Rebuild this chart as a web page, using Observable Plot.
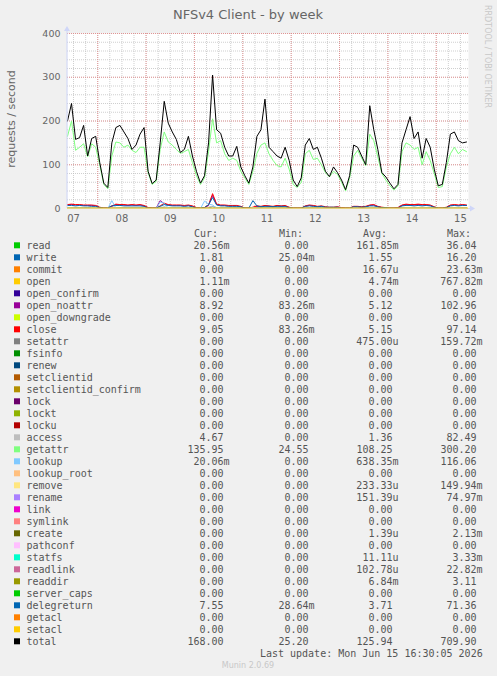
<!DOCTYPE html>
<html><head><meta charset="utf-8">
<script src="https://cdn.jsdelivr.net/npm/d3@7"></script>
<script src="https://cdn.jsdelivr.net/npm/@observablehq/plot@0.6"></script>
<style>
html,body{margin:0;padding:0;background:#F0F0F0;}
#chart svg{display:block;}
</style></head><body><div id="chart"></div>
<script>
// ---- time series (2-hour samples starting Jun 7 09:00 UTC) ----
const total = [200,240,158,162,190,120,160,165,
 105,58,48,150,185,190,175,160,135,145,170,185,
 85,57,65,150,245,195,175,158,128,135,165,120,
 85,58,75,150,305,180,172,140,120,120,142,95,
 75,58,95,165,180,250,140,130,120,115,140,110,
 65,50,70,145,160,135,140,115,85,73,95,82,
 65,43,75,145,140,120,100,235,180,135,82,72,
 58,45,55,150,180,210,160,175,115,160,140,90,
 52,55,105,170,175,155,150,152];
const getattr = [165,200,133,140,148,118,148,140,
 100,55,45,120,152,150,140,145,133,128,140,140,
 82,55,62,135,175,152,145,135,126,130,135,105,
 75,55,70,130,205,150,155,125,110,115,110,85,
 70,55,85,126,145,150,125,110,98,95,115,90,
 55,48,60,125,133,112,115,100,82,72,85,78,
 60,40,70,120,133,115,98,170,155,118,80,65,
 52,42,52,130,150,145,135,140,100,130,110,80,
 48,50,95,125,140,125,135,130];
const close = [9,10,9,9,8,8,8,7,
 3,1,1,6,10,9,9,8,9,8,9,7,
 2,1,1,6,12,9,8,8,8,7,8,6,
 2,1,2,8,34,10,8,8,7,7,7,5,
 1,1,3,6,5,7,6,5,7,6,7,3,
 1,1,1,6,8,7,5,6,4,3,3,4,
 2,1,1,5,5,4,5,8,9,5,3,2,
 1,1,2,8,10,9,9,10,9,9,8,4,
 1,1,3,8,9,8,9,8];
const open_noattr = [8,9,8,8,7,7,7,6,
 2,1,1,5,9,8,8,7,8,7,8,6,
 2,1,1,18,11,8,7,7,7,6,7,5,
 2,1,2,7,30,9,7,7,6,6,6,4,
 1,1,2,5,4,6,5,4,6,5,6,2,
 1,1,1,5,7,6,4,5,3,2,2,3,
 1,1,1,4,4,3,4,7,8,4,2,1,
 1,1,2,7,9,8,8,9,8,8,7,3,
 1,1,2,7,8,7,8,7];
const delegreturn = [7,7,6,7,6,6,5,5,
 2,1,1,6,7,7,6,6,6,6,6,5,
 1,1,1,5,9,7,6,6,6,5,6,4,
 1,1,2,9,25,8,6,6,5,5,5,4,
 1,1,18,6,4,5,5,4,5,5,5,2,
 1,1,1,5,6,5,4,5,3,3,3,3,
 1,1,1,4,4,3,4,6,6,4,2,2,
 1,1,1,6,7,7,6,7,6,7,6,3,
 1,1,2,6,7,6,7,7];
const lookup = [0.5,0.5,0.5,0.5,0.5,0.5,0.5,0.3,
 0,0,0,18,1,0.5,0.5,0.5,0.5,0.5,0.5,0.3,
 0,0,0,15,12,1,0.5,0.5,0.5,0.5,0.5,0.3,
 0,0,17,10,8,1,0.5,0.5,0.5,0.5,0.5,0.3,
 0,0,2,1,0.5,0.5,0.5,0.5,0.5,0.5,0.5,0.3,
 0,0,0,1,0.5,0.5,0.5,0.5,0.5,0.3,0.3,0.3,
 0,0,0,1,0.5,0.5,0.5,1,0.5,0.3,0.3,0,
 0,0,0,1,0.5,0.5,0.5,0.5,0.5,0.5,0.5,0.3,
 0,0,0.5,1,0.5,0.5,0.5,0.5];
const write = [2,2,2,2,2,2,1,1,
 0.5,0.3,0.3,1,2,2,2,2,2,2,2,1,
 0.5,0.3,0.3,1,3,2,2,2,2,2,2,1,
 0.5,0.3,0.5,2,4,2,2,2,2,2,2,1,
 0.3,0.3,1,2,2,2,2,1,2,2,2,1,
 0.3,0.3,0.3,2,2,2,1,2,1,1,1,1,
 0.3,0.3,0.3,1,1,1,1,2,2,1,1,0.5,
 0.3,0.3,0.5,2,2,2,2,2,2,2,2,1,
 0.3,0.3,1,2,2,2,2,2];
const access = [2,2,1.5,1.5,1.5,1,1,1,
 0.5,0.2,0.2,2,2,1.5,1.5,1.5,1.5,1.5,1.5,1,
 0.5,0.2,0.2,3,3,1.5,1.5,1.5,1.5,1.5,1.5,1,
 0.5,0.2,0.5,3,5,2,1.5,1.5,1.5,1.5,1.5,1,
 0.3,0.2,2,1.5,1.5,1.5,1.5,1,1.5,1.5,1.5,0.5,
 0.2,0.2,0.2,1.5,1.5,1.5,1,1,1,0.5,0.5,0.5,
 0.2,0.2,0.2,1,1,1,1,2,2,1,0.5,0.5,
 0.2,0.2,0.5,1.5,2,2,2,2,2,2,1.5,1,
 0.2,0.2,0.5,2,2,2,2,2];

// ---- axis ticks ----
const yTicks = [0,100,200,300,400];
const dayLabels = ["07","08","09","10","11","12","13","14","15"];

// ---- legend table ----
const names = ["read","write","commit","open","open_confirm","open_noattr","open_downgrade","close","setattr","fsinfo","renew","setclientid","setclientid_confirm","lock","lockt","locku","access","getattr","lookup","lookup_root","remove","rename","link","symlink","create","pathconf","statfs","readlink","readdir","server_caps","delegreturn","getacl","setacl","total"];
const colors = ["#00CC00","#0066B3","#FF8000","#FFCC00","#330099","#990099","#CCFF00","#FF0000","#808080","#008F00","#00487D","#B35A00","#B38F00","#6B006B","#8FB300","#B30000","#BEBEBE","#80FF80","#80C9FF","#FFC080","#FFE680","#AA80FF","#EE00CC","#FF8080","#666600","#FFBFFF","#00FFCC","#CC6699","#999900","#00CC00","#0066B3","#FF8000","#FFCC00","#000000"];
const curV = ["20.56m","1.81","0.00","1.11m","0.00","8.92","0.00","9.05","0.00","0.00","0.00","0.00","0.00","0.00","0.00","0.00","4.67","135.95","20.06m","0.00","0.00","0.00","0.00","0.00","0.00","0.00","0.00","0.00","0.00","0.00","7.55","0.00","0.00","168.00"];
const minV = ["0.00","25.04m","0.00","0.00","0.00","83.26m","0.00","83.26m","0.00","0.00","0.00","0.00","0.00","0.00","0.00","0.00","0.00","24.55","0.00","0.00","0.00","0.00","0.00","0.00","0.00","0.00","0.00","0.00","0.00","0.00","28.64m","0.00","0.00","25.20"];
const avgV = ["161.85m","1.55","16.67u","4.74m","0.00","5.12","0.00","5.15","475.00u","0.00","0.00","0.00","0.00","0.00","0.00","0.00","1.36","108.25","638.35m","0.00","233.33u","151.39u","0.00","0.00","1.39u","0.00","11.11u","102.78u","6.84m","0.00","3.71","0.00","0.00","125.94"];
const maxV = ["36.04","16.20","23.63m","767.82m","0.00","102.96","0.00","97.14","159.72m","0.00","0.00","0.00","0.00","0.00","0.00","0.00","82.49","300.20","116.06","0.00","149.94m","74.97m","0.00","0.00","2.13m","0.00","3.33m","22.82m","3.11","0.00","71.36","0.00","0.00","709.90"];
const headers = ["Cur:","Min:","Avg:","Max:"];

// ---- build ----
const HOUR = 3600e3;
const t0 = Date.UTC(2026,5,7,9);
const times = total.map((_, i) => new Date(t0 + i*2*HOUR));
const start = new Date(Date.UTC(2026,5,7,9));
const end = new Date(Date.UTC(2026,5,15,16));
const colorOf = n => colors[names.indexOf(n)];
const seriesDrawn = [["write",write],["open_noattr",open_noattr],["close",close],["access",access],["getattr",getattr],["lookup",lookup],["delegreturn",delegreturn]];
const pts = vals => vals.map((v,i)=>({t:times[i], v}));

const minorX = d3.utcHour.every(6).range(start, end);
const majorX = d3.utcDay.range(start, end);
const minorY = d3.range(0, 401, 20);
const noon = dayLabels.map(l => new Date(Date.UTC(2026,5,+l,12)));

const chart = Plot.plot({
  width: 497, height: 676,
  marginLeft: 67, marginRight: 29, marginTop: 33, marginBottom: 468,
  style: {background: "#F0F0F0", fontFamily: "DejaVu Sans", color: "#666666", overflow: "visible"},
  x: {type: "utc", domain: [start, end], axis: null},
  y: {domain: [0, 400], axis: null},
  marks: [
    Plot.frame({fill: "white", stroke: "none"}),
    Plot.ruleX(minorX, {stroke: "#BFBFBF", strokeOpacity: 0.75, strokeDasharray: "1,1"}),
    Plot.ruleY(minorY, {stroke: "#BFBFBF", strokeOpacity: 0.75, strokeDasharray: "1,1"}),
    Plot.ruleX(majorX, {stroke: "#E68080", strokeOpacity: 0.75, strokeDasharray: "1,1"}),
    Plot.ruleY(yTicks, {stroke: "#E68080", strokeOpacity: 0.75, strokeDasharray: "1,1"}),
    ...seriesDrawn.map(([n, vals]) => Plot.line(pts(vals), {x: "t", y: "v", stroke: colorOf(n), strokeWidth: 1})),
    Plot.ruleY([0], {stroke: colorOf("setacl"), strokeWidth: 1}),
    Plot.line(pts(total), {x: "t", y: "v", stroke: "#000000", strokeWidth: 1}),
    Plot.axisY({ticks: yTicks, tickSize: 0, tickPadding: 7, fontSize: 9.5, label: null, fill: "#666666"}),
    Plot.axisX({ticks: noon, tickFormat: d => dayLabels[noon.findIndex(n => +n === +d)], tickSize: 0, tickPadding: 6, fontSize: 10, label: null, fill: "#666666"})
  ]
});
document.getElementById("chart").appendChild(chart);

const svg = d3.select(chart);
const sx = chart.scale("x"), sy = chart.scale("y");
const x0 = sx.apply(start), x1 = sx.apply(end), y0 = sy.apply(0), yT = sy.apply(400);
const axisC = "#CFD6F8";
svg.append("line").attr("x1", x0).attr("x2", x0).attr("y1", y0).attr("y2", yT - 4).attr("stroke", axisC);
svg.append("line").attr("x1", x0).attr("x2", x1 + 4).attr("y1", y0 + 0.5).attr("y2", y0 + 0.5).attr("stroke", axisC);
svg.append("path").attr("d", `M${x0-3},${yT-2}L${x0},${yT-7}L${x0+3},${yT-2}Z`).attr("fill", axisC);
svg.append("path").attr("d", `M${x1+2},${y0-2.5}L${x1+7},${y0+0.5}L${x1+2},${y0+3.5}Z`).attr("fill", axisC);
svg.append("line").attr("x1", x0).attr("x2", x1).attr("y1", y0).attr("y2", y0).attr("stroke", colorOf("setacl"));

// title
svg.append("text").text("NFSv4 Client - by week").attr("x", 248).attr("y", 14).attr("dy", "0.35em")
  .attr("text-anchor", "middle").attr("font-family", "DejaVu Sans").attr("font-size", 13).attr("fill", "#666666");
// y label
svg.append("text").text("requests / second").attr("transform", "translate(11,119) rotate(-90)").attr("dy", "0.35em")
  .attr("text-anchor", "middle").attr("font-family", "DejaVu Sans").attr("font-size", 11).attr("fill", "#666666");
// watermark
svg.append("text").text("RRDTOOL / TOBI OETIKER").attr("transform", "translate(488,5) rotate(90)").attr("dy", "0.35em")
  .attr("text-anchor", "start").attr("font-family", "DejaVu Sans").attr("font-size", 8).attr("fill", "#C8C8C8");

// legend
const mono = "DejaVu Sans Mono";
const rowY = i => 245.3 + 12*i;
const headX = [194, 279, 363, 447];
const edges = [223.5, 308.5, 392.5, 476.5];
const lg = svg.append("g").attr("font-family", mono).attr("font-size", 10).attr("fill", "#555555").attr("text-anchor", "start");
headers.forEach((h, j) => lg.append("text").text(h).attr("x", headX[j]).attr("y", rowY(-1)).attr("dy", "0.35em").attr("text-anchor", "start"));
const cols = [curV, minV, avgV, maxV];
names.forEach((n, i) => {
  lg.append("rect").attr("x", 14).attr("y", rowY(i) - 3).attr("width", 6).attr("height", 6).attr("fill", colors[i]);
  lg.append("text").text(n).attr("x", 26.5).attr("y", rowY(i)).attr("dy", "0.35em").attr("text-anchor", "start");
  cols.forEach((c, j) => {
    const v = c[i];
    const suf = /[a-z]$/.test(v);
    lg.append("text").text(v).attr("x", edges[j] + (suf ? 6 : 0)).attr("y", rowY(i)).attr("dy", "0.35em").attr("text-anchor", "end");
  });
});
lg.append("text").text("Last update: Mon Jun 15 16:30:05 2026").attr("x", 482.7).attr("y", rowY(34)).attr("dy", "0.35em").attr("text-anchor", "end");
svg.append("text").text("Munin 2.0.69").attr("x", 248).attr("y", 665).attr("dy", "0.35em").attr("text-anchor", "middle")
  .attr("font-family", "DejaVu Sans").attr("font-size", 8).attr("fill", "#C8C8C8");
</script></body></html>
